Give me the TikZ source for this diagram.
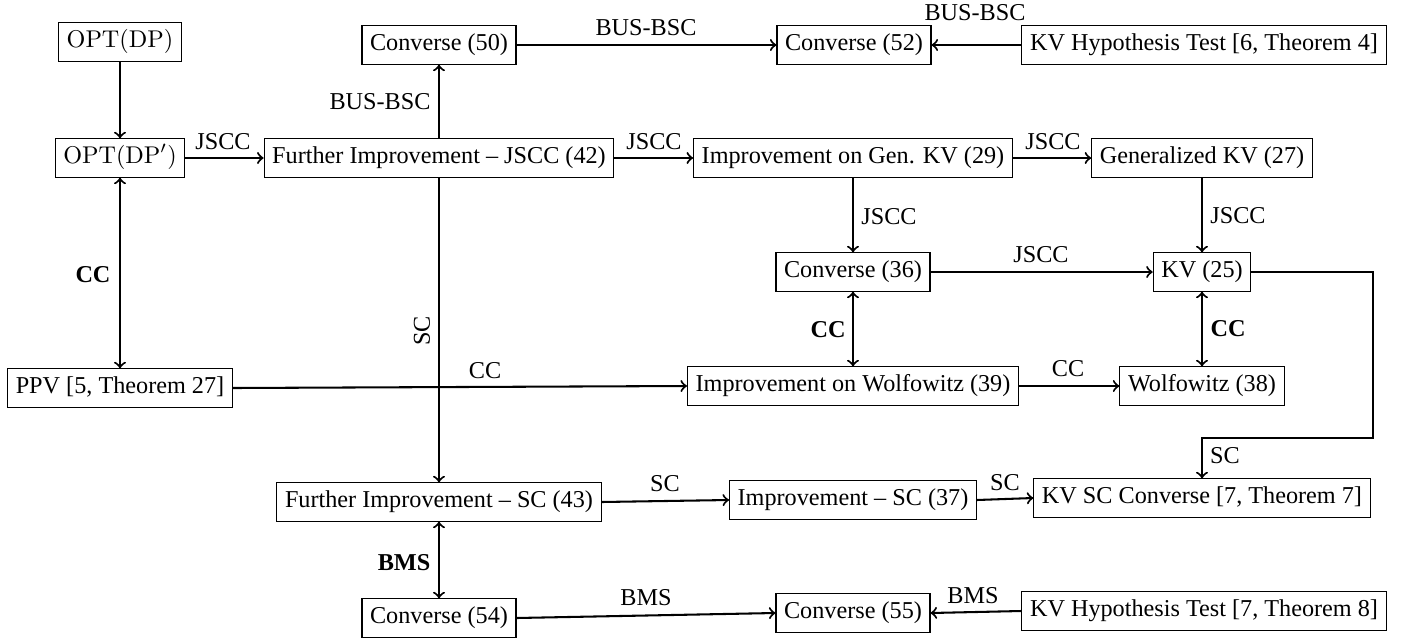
\documentclass[tikz,border=0pt]{standalone}
\usepackage[no-math]{fontspec}
\setmainfont{Liberation Serif}
\begin{document}
\begin{tikzpicture}[x=0.413pt,y=-0.413pt,
  box/.style={draw, line width=0.45pt, inner sep=3.33pt, text height=6.9pt, text depth=2.2pt, font=\fontsize{10}{12}\selectfont},
  lab/.style={inner sep=0pt, font=\fontsize{10}{12}\selectfont},
  blab/.style={inner sep=0pt, font=\fontsize{10}{12}\selectfont\bfseries},
  arr/.style={->, line width=0.85pt},
  darr/.style={<->, line width=0.85pt}]
\useasboundingbox (0,0) rectangle (1411,639);
% column 1
\node[box] (opt) at (120,42) {$\mathrm{OPT}(\mathrm{DP})$};
\node[box] (optp) at (120,158) {$\mathrm{OPT}(\mathrm{DP}')$};
\node[box] (ppv) at (120,388) {PPV [5, Theorem 27]};
% column 2
\node[box] (c50) at (439,45) {Converse (50)};
\node[box] (fi42) at (439,158) {Further Improvement -- JSCC (42)};
\node[box] (fisc) at (439,502) {Further Improvement -- SC (43)};
\node[box] (c54) at (439,618) {Converse (54)};
% column 3
\node[box] (c52) at (854,45) {Converse (52)};
\node[box] (igkv) at (853,158) {Improvement on Gen. KV (29)};
\node[box] (c36) at (853,272) {Converse (36)};
\node[box] (iw39) at (853,386) {Improvement on Wolfowitz (39)};
\node[box] (is37) at (853,500) {Improvement -- SC (37)};
\node[box] (c55) at (853,613) {Converse (55)};
% column 4
\node[box] (kvht4) at (1204,45) {KV Hypothesis Test [6, Theorem 4]};
\node[box] (gkv) at (1202,158) {Generalized KV (27)};
\node[box] (kv25) at (1202,272) {KV (25)};
\node[box] (w38) at (1202,386) {Wolfowitz (38)};
\node[box] (kvsc) at (1202,498) {KV SC Converse [7, Theorem 7]};
\node[box] (kvht8) at (1204,611) {KV Hypothesis Test [7, Theorem 8]};
\coordinate (e1) at (1373,438);
% connectors
\draw[arr] (opt.south) -- (optp.north);
\draw[darr] (optp.south) -- (ppv.north);
\draw[arr] (optp.east) -- (fi42.west);
\draw[arr] (fi42.north) -- (c50.south);
\draw[arr] (c50.east) -- (c52.west);
\draw[arr] (kvht4.west) -- (c52.east);
\draw[arr] (fi42.east) -- (igkv.west);
\draw[arr] (igkv.east) -- (gkv.west);
\draw[arr] (igkv.south) -- (c36.north);
\draw[arr] (gkv.south) -- (kv25.north);
\draw[arr] (c36.east) -- (kv25.west);
\draw[darr] (c36.south) -- (iw39.north);
\draw[darr] (kv25.south) -- (w38.north);
\draw[arr] (iw39.east) -- (w38.west);
\draw[arr] (ppv.east) -- (iw39.west);
\draw[arr] (fi42.south) -- (fisc.north);
\draw[arr] (kv25.east) -| (e1) -| (kvsc.north);
\draw[arr] (fisc.east) -- (is37.west);
\draw[arr] (is37.east) -- (kvsc.west);
\draw[darr] (fisc.south) -- (c54.north);
\draw[arr] (c54.east) -- (c55.west);
\draw[arr] (kvht8.west) -- (c55.east);
% labels
\node[lab] (l1) at (223,142) {JSCC};
\node[lab] (l2) at (380,102) {BUS-BSC};
\node[lab] (l3) at (646,28) {BUS-BSC};
\node[lab] (l4) at (975,13) {BUS-BSC};
\node[lab] (l5) at (654,142) {JSCC};
\node[lab] (l6) at (1053,142) {JSCC};
\node[lab] (l7) at (889,217) {JSCC};
\node[lab] (l8) at (1238,216) {JSCC};
\node[lab] (l9) at (1041,255) {JSCC};
\node[blab] (l10) at (93,275) {CC};
\node[lab, rotate=90] (l11) at (422,331) {SC};
\node[lab] (l12) at (485,371) {CC};
\node[blab] (l13) at (828,330) {CC};
\node[blab] (l14) at (1228,329) {CC};
\node[lab] (l15) at (1068,369) {CC};
\node[lab] (l16) at (1225,456) {SC};
\node[lab] (l17) at (665,484) {SC};
\node[lab] (l18) at (1005,483) {SC};
\node[blab] (l19) at (404,563) {BMS};
\node[lab] (l20) at (646,598) {BMS};
\node[lab] (l21) at (973,596) {BMS};
\end{tikzpicture}
\end{document}
